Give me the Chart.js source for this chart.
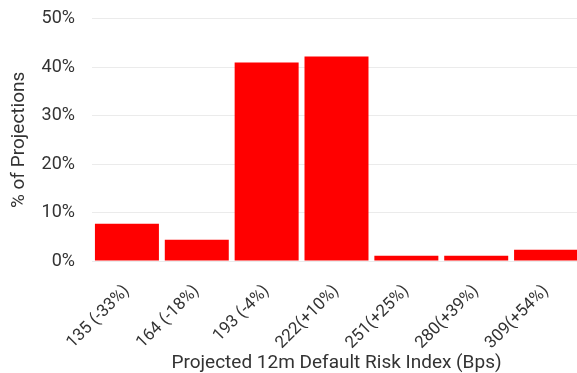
<!DOCTYPE html>
<html>
<head>
<meta charset="utf-8">
<script src="https://cdn.jsdelivr.net/npm/chart.js@4"></script>
<style>
html,body{margin:0;padding:0;background:#fff;overflow:hidden;}
#wrap{width:582px;height:373px;position:relative;}
</style>
</head>
<body>
<div id="wrap"><canvas id="c"></canvas></div>
<script>
const categories = ["135 (-33%)", "164 (-18%)", "193 (-4%)", "222(+10%)", "251(+25%)", "280(+39%)", "309(+54%)"];
const shareOfProjections = [7.7, 4.4, 41.0, 42.2, 1.1, 1.1, 2.3];
const yTicks = [0, 10, 20, 30, 40, 50];

const txt = '#333333';
const clear = 'rgba(0,0,0,0)';
new Chart(document.getElementById('c'), {
  type: 'bar',
  data: {
    labels: categories,
    datasets: [{
      data: shareOfProjections,
      backgroundColor: '#ff0000',
      borderWidth: 0,
      barPercentage: 0.916,
      categoryPercentage: 1.0
    }]
  },
  options: {
    responsive: true,
    maintainAspectRatio: false,
    animation: false,
    devicePixelRatio: 1,
    layout: { padding: { top: 0, right: 1, left: 0, bottom: 0 } },
    plugins: { legend: { display: false }, tooltip: { enabled: false } },
    scales: {
      x: {
        afterFit: (axis) => { axis.height = 112; },
        grid: { display: false, drawTicks: false },
        border: { display: false },
        ticks: { color: txt, font: { family: 'Roboto', size: 17 }, minRotation: 45, maxRotation: 45, padding: 20, autoSkip: false },
        title: { display: true, text: 'Projected 12m Default Risk Index (Bps)', color: txt, font: { family: 'Roboto', size: 19 }, padding: { top: 0, bottom: -2 } }
      },
      y: {
        min: 0, max: 50,
        afterBuildTicks: (axis) => { axis.ticks = yTicks.map(v => ({ value: v })); },
        afterFit: (axis) => { axis.width = 92; },
        grid: { color: '#ebebeb', lineWidth: 1, drawTicks: true, tickLength: 9, tickColor: clear },
        border: { display: false },
        ticks: { color: txt, font: { family: 'Roboto', size: 18 }, padding: 8, callback: v => v + '%' },
        title: { display: true, text: '% of Projections', color: txt, font: { family: 'Roboto', size: 19 }, padding: { top: 8, bottom: 0 } }
      }
    }
  }
});
</script>
</body>
</html>
